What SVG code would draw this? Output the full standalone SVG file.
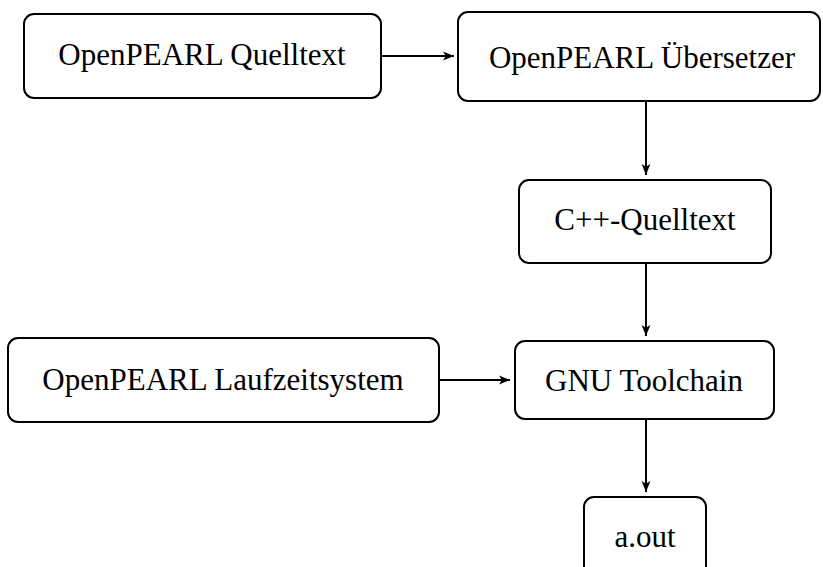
<svg xmlns="http://www.w3.org/2000/svg" width="823" height="567" viewBox="0 0 823 567">
<style>
.box{fill:#fff;stroke:#000;stroke-width:2}
.lbl{font-family:"Liberation Serif","DejaVu Serif",serif;font-size:31px;fill:#000;text-anchor:middle}
.edge{stroke:#000;stroke-width:2;fill:none;marker-end:url(#ah)}
</style>
<defs>
<marker id="ah" viewBox="0 0 10 10" refX="10" refY="5" markerWidth="11" markerHeight="11" markerUnits="userSpaceOnUse" orient="auto">
<path d="M0,1 L10,5 L0,9 L2.5,5 Z" fill="#000"/>
</marker>
</defs>
<g id="connectors">
<line class="edge" x1="381" y1="56" x2="454" y2="56"/>
<line class="edge" x1="646" y1="101" x2="646" y2="175"/>
<line class="edge" x1="646" y1="263" x2="646" y2="336"/>
<line class="edge" x1="439" y1="380" x2="510" y2="380"/>
<line class="edge" x1="646" y1="419" x2="646" y2="492"/>
</g>
<g id="n1"><rect class="box" x="24" y="14" width="357" height="84" rx="10"/><text class="lbl" x="202" y="65">OpenPEARL Quelltext</text></g>
<g id="n2"><rect class="box" x="458" y="12" width="362" height="89" rx="10"/><text class="lbl" x="642" y="68">OpenPEARL Übersetzer</text></g>
<g id="n3"><rect class="box" x="519" y="180" width="252" height="83" rx="10"/><text class="lbl" x="645" y="230">C++-Quelltext</text></g>
<g id="n4"><rect class="box" x="8" y="338" width="431" height="84" rx="10"/><text class="lbl" x="223" y="390">OpenPEARL Laufzeitsystem</text></g>
<g id="n5"><rect class="box" x="515" y="341" width="259" height="78" rx="10"/><text class="lbl" x="644" y="391">GNU Toolchain</text></g>
<g id="n6"><rect class="box" x="584" y="497" width="122" height="80" rx="10"/><text class="lbl" x="645" y="547">a.out</text></g>
</svg>
